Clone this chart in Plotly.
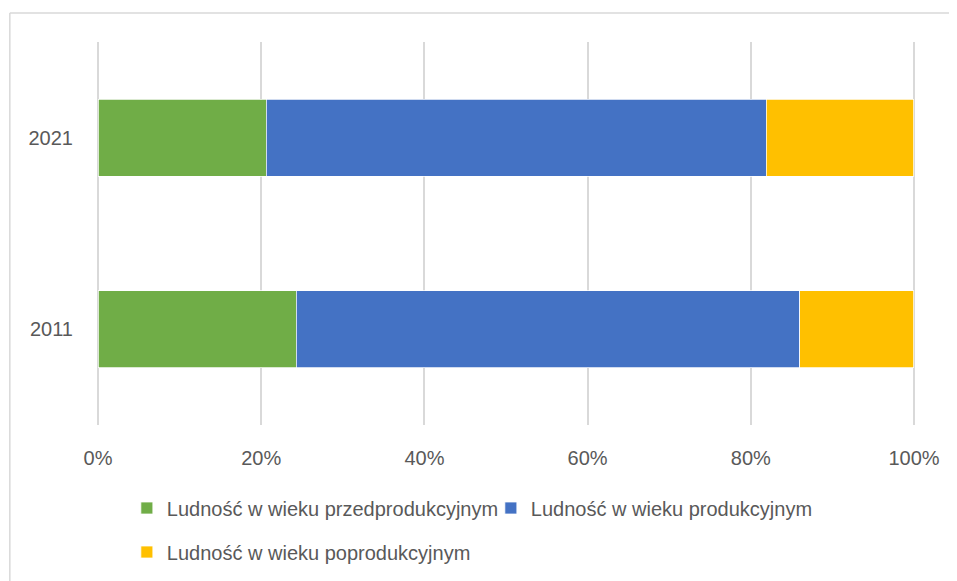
import plotly.graph_objects as go

years = ["2011", "2021"]
series_names = [
    "Ludność w wieku przedprodukcyjnym",
    "Ludność w wieku produkcyjnym",
    "Ludność w wieku poprodukcyjnym",
]
pre_prod = [24.3, 20.6]
prod = [61.7, 61.3]
post_prod = [14.0, 18.1]
colors = ["#70AD47", "#4472C4", "#FFC000"]
x_ticks = [0, 20, 40, 60, 80, 100]
x_tick_labels = ["0%", "20%", "40%", "60%", "80%", "100%"]

TEXT = "#595959"
GRID = "#D9D9D9"
FONT = "Liberation Sans"

# page body adds an 8px offset to the screenshot
OFF = 8
W, H = 957 - OFF, 581 - OFF
PAD = 0.25                     # range padding so edge gridlines are drawn
PX_PER_UNIT = 816 / 100
left_px = 98.2 - PAD * PX_PER_UNIT - OFF
right_px = 913.9 + PAD * PX_PER_UNIT - OFF
top_px = 42 - OFF
bot_px = 425 - OFF
L, R, T, B = left_px, W - right_px, top_px, H - bot_px
pw = right_px - left_px
ph = bot_px - top_px


def px_x(x):
    return (x - OFF - left_px) / pw


def px_y(y):
    return (bot_px - (y - OFF)) / ph


fig = go.Figure()
for name, vals, col, lg in zip(series_names, [pre_prod, prod, post_prod], colors,
                               ["legend", "legend", "legend2"]):
    fig.add_trace(go.Bar(
        y=years, x=vals, name=name, orientation="h",
        marker=dict(color=col, line=dict(width=0.75, color="white")),
        width=0.4, legend=lg,
    ))

fig.update_layout(
    width=W, height=H,
    margin=dict(l=L, r=R, t=T, b=B, autoexpand=False),
    barmode="stack", barnorm="percent",
    plot_bgcolor="white", paper_bgcolor="white",
    font=dict(family=FONT, size=20, color=TEXT),
    xaxis=dict(
        range=[-PAD, 100 + PAD], tickmode="array",
        tickvals=x_ticks, ticktext=x_tick_labels,
        showgrid=True, gridcolor=GRID, gridwidth=1.5,
        zeroline=False, showline=False, ticks="",
        ticklabelstandoff=19,
        tickfont=dict(family=FONT, size=20, color=TEXT),
    ),
    yaxis=dict(
        type="category", categoryorder="array", categoryarray=years,
        showgrid=False, zeroline=False, showline=False, ticks="",
        ticklabelstandoff=22,
        tickfont=dict(family=FONT, size=20, color=TEXT),
    ),
    legend=dict(
        orientation="h", x=px_x(127), xanchor="left",
        y=px_y(508), yanchor="middle", bgcolor="rgba(0,0,0,0)",
        font=dict(family=FONT, size=20, color=TEXT), traceorder="normal",
        entrywidth=319, entrywidthmode="pixels",
    ),
    legend2=dict(
        orientation="h", x=px_x(127), xanchor="left",
        y=px_y(552), yanchor="middle", bgcolor="rgba(0,0,0,0)",
        font=dict(family=FONT, size=20, color=TEXT),
    ),
    shapes=[
        dict(type="line", xref="paper", yref="paper",
             x0=px_x(10), x1=1.2, y0=px_y(13), y1=px_y(13),
             line=dict(color=GRID, width=1.5)),
        dict(type="line", xref="paper", yref="paper",
             x0=px_x(10), x1=px_x(10), y0=px_y(13), y1=-0.6,
             line=dict(color=GRID, width=1.5)),
    ],
)

fig.write_html("out.html")
